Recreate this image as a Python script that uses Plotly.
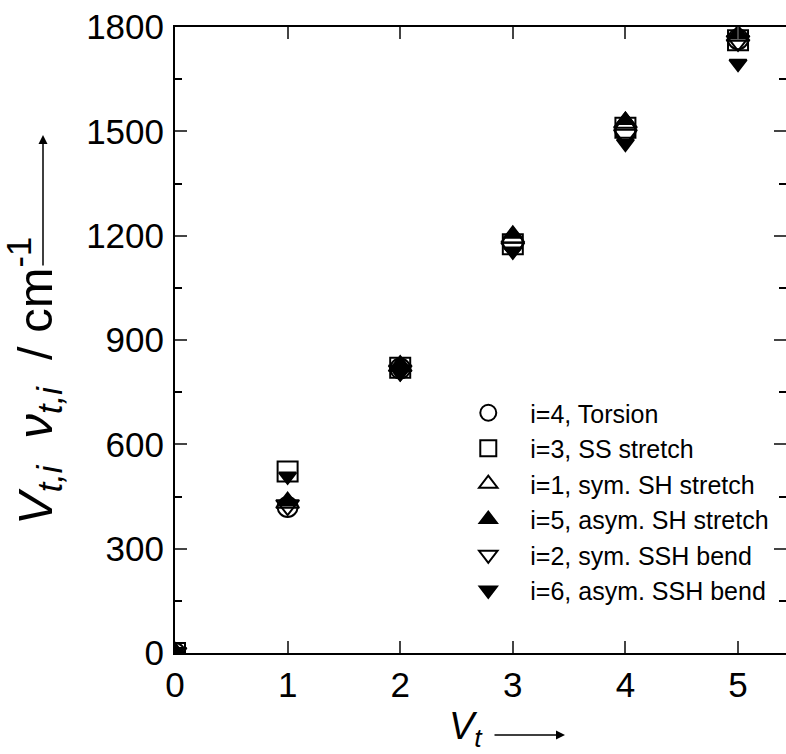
import plotly.graph_objects as go

# ---- data ----
V = [0, 1, 2, 3, 4, 5]
torsion_i4 = [0, 420, 818, 1180, 1500, 1765]
ss_stretch_i3 = [0, 522, 820, 1175, 1510, 1762]
sym_sh_stretch_i1 = [0, 432, 825, 1195, 1525, 1775]
asym_sh_stretch_i5 = [0, 435, 830, 1205, 1532, 1778]
sym_ssh_bend_i2 = [0, 425, 812, 1165, 1490, 1760]
asym_ssh_bend_i6 = [0, 508, 805, 1155, 1465, 1695]

series_names = [
    "i=4, Torsion",
    "i=3, SS stretch",
    "i=1, sym. SH stretch",
    "i=5, asym. SH stretch",
    "i=2, sym. SSH bend",
    "i=6, asym. SSH bend",
]
series_values = [torsion_i4, ss_stretch_i3, sym_sh_stretch_i1,
                 asym_sh_stretch_i5, sym_ssh_bend_i2, asym_ssh_bend_i6]
y_tick_vals = [0, 300, 600, 900, 1200, 1500, 1800]
x_tick_vals = [0, 1, 2, 3, 4, 5]

symbols = ["circle-open", "square-open", "triangle-up-open",
           "triangle-up", "triangle-down-open", "triangle-down"]
sizes = [20, 20, 20, 15, 20, 15]

FONT = "Liberation Sans, Arial, Helvetica, sans-serif"

W, H = 786, 754
PL, PT, PW, PH = 175, 27, 611, 626   # plot area in page pixels


def px(xp):
    return (xp - PL) / PW


def py(yp):
    return (PT + PH - yp) / PH


fig = go.Figure()
for k, (nm, vals) in enumerate(zip(series_names, series_values)):
    fig.add_trace(go.Scatter(
        x=V, y=vals, mode="markers", name=nm, legendgroup=f"g{k}",
        marker=dict(symbol=symbols[k], size=sizes[k], color="black",
                    line=dict(color="black", width=2)),
        cliponaxis=True,
    ))

fig.update_layout(
    width=W, height=H,
    margin=dict(l=PL, r=W - PL - PW, t=PT, b=H - PT - PH, autoexpand=False),
    paper_bgcolor="white", plot_bgcolor="white",
    font=dict(family=FONT, color="black"),
    showlegend=True,
    legend=dict(x=0.444, y=py(390), xanchor="left", yanchor="top",
                bgcolor="rgba(0,0,0,0)", font=dict(size=25, family=FONT),
                itemwidth=74, tracegroupgap=0, itemsizing="trace"),
)
fig.update_xaxes(
    range=[0, 5.426], tickvals=x_tick_vals, ticks="inside", ticklen=12,
    tickwidth=2, showline=True, linewidth=2, linecolor="black",
    mirror="ticks", showgrid=False, zeroline=False, automargin=False,
    tickfont=dict(size=35, family=FONT), ticklabelstandoff=0,
    ticklabeloverflow="allow",
)
fig.update_yaxes(
    range=[0, 1800], tickvals=y_tick_vals, ticks="inside", ticklen=12,
    tickwidth=2, showline=True, linewidth=2, linecolor="black",
    mirror="ticks", showgrid=False, zeroline=False, automargin=False,
    tickfont=dict(size=35, family=FONT), ticklabelstandoff=2,
    ticklabeloverflow="allow",
    minor=dict(dtick=150, ticks="inside", ticklen=7, tickwidth=2,
               tickcolor="black"),
)

# axis titles with arrows
fig.add_annotation(
    xref="paper", yref="paper", x=px(34), y=py(381),
    text="<i>V</i><sub><i>t,i</i></sub>  <i>ν</i><sub><i>t,i</i></sub>  / cm<sup>-1</sup>",
    textangle=-90, showarrow=False, font=dict(size=49, family=FONT),
    xanchor="center", yanchor="middle",
)
fig.add_annotation(
    xref="paper", yref="paper", x=px(43), y=py(135),
    ax=0, ay=267 - 135, text="", showarrow=True, arrowhead=2,
    arrowsize=1.2, arrowwidth=1.5, arrowcolor="black",
)
fig.add_annotation(
    xref="paper", yref="paper", x=px(466), y=py(729),
    text="<i>V</i><sub><i>t</i></sub>", showarrow=False,
    font=dict(size=38, family=FONT), xanchor="center", yanchor="middle",
)
fig.add_annotation(
    xref="paper", yref="paper", x=px(565), y=py(735),
    ax=493 - 565, ay=0, text="", showarrow=True, arrowhead=2,
    arrowsize=1.2, arrowwidth=1.5, arrowcolor="black",
)

fig.write_html(
    "out.html",
    config={"displayModeBar": False},
    post_script="document.body.style.margin='0';document.body.style.overflow='hidden';",
)
